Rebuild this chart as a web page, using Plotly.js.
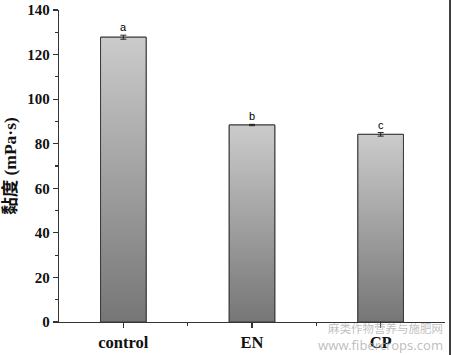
<!DOCTYPE html>
<html>
<head>
<meta charset="utf-8">
<script src="https://cdn.plot.ly/plotly-3.0.1.min.js"></script>
<style>html,body{margin:0;padding:0;background:#fff;}</style>
</head>
<body>
<div id="chart" style="width:452px;height:355px;"></div>
<script>
const categories = ['control', 'EN', 'CP'];
const viscosity = [127.8, 88.4, 84.2];
const errors = [0.9, 0.3, 0.8];
const letters = ['a', 'b', 'c'];
const yTicks = [0, 20, 40, 60, 80, 100, 120, 140];

const idx = categories.map((c, i) => i);
const halfW = 0.177;

const traces = [];
// base bar trace (data)
traces.push({
  type: 'bar', x: idx, y: viscosity, width: 2 * halfW,
  marker: {color: '#a0a0a0', line: {color: '#333', width: 1}},
  hoverinfo: 'none', showlegend: false
});
// gradient overlays built from the same data
idx.forEach((i) => {
  const v = viscosity[i];
  traces.push({
    type: 'scatter', mode: 'lines',
    x: [i - halfW, i + halfW, i + halfW, i - halfW, i - halfW],
    y: [0, 0, v, v, 0],
    fill: 'toself',
    fillgradient: {type: 'vertical', colorscale: [[0, '#767676'], [1, '#cbcbcb']]},
    line: {color: '#3a3a3a', width: 1},
    hoverinfo: 'none', showlegend: false
  });
});
// error bars
traces.push({
  type: 'scatter', mode: 'markers', x: idx, y: viscosity,
  marker: {size: 1, color: 'rgba(0,0,0,0)'},
  error_y: {type: 'data', array: errors, visible: true, color: '#222', thickness: 1, width: 3},
  hoverinfo: 'none', showlegend: false
});

const annotations = idx.map((i) => ({
  x: i, y: viscosity[i] + errors[i], xref: 'x', yref: 'y',
  text: letters[i], showarrow: false, yanchor: 'bottom', yshift: 0,
  font: {family: 'Liberation Sans, Arial, sans-serif', size: 11, color: '#000'}
}));
annotations.push({
  xref: 'paper', yref: 'paper', x: 1.0, y: -0.02, xanchor: 'right', yanchor: 'middle',
  text: '麻类作物营养与施肥网', showarrow: false,
  font: {family: 'Noto Sans CJK SC, Noto Sans, sans-serif', size: 11.5, color: 'rgba(170,170,170,0.75)'}
});
annotations.push({
  xref: 'paper', yref: 'paper', x: 1.0, y: -0.074, xanchor: 'right', yanchor: 'middle',
  text: 'www.fibercrops.com', showarrow: false,
  font: {family: 'Noto Sans, DejaVu Sans, sans-serif', size: 13, color: 'rgba(170,170,170,0.75)'}
});

const layout = {
  width: 452, height: 355,
  margin: {l: 59, r: 7, t: 10, b: 33},
  paper_bgcolor: '#fff', plot_bgcolor: '#fff',
  showlegend: false,
  xaxis: {
    range: [-0.5, 2.5], tickmode: 'array', tickvals: idx, ticktext: categories,
    showgrid: false, zeroline: false, showline: true, linecolor: '#333', linewidth: 1.3,
    ticks: 'outside', ticklen: 5, tickcolor: '#333', tickwidth: 1.2,
    minor: {tickmode: 'array', tickvals: [0.5, 1.5], ticks: 'outside', ticklen: 3, tickcolor: '#333', tickwidth: 1.2, showgrid: false},
    tickfont: {family: 'Liberation Serif, Times New Roman, serif', size: 16.5, color: '#111', weight: 'bold'}
  },
  yaxis: {
    range: [0, 140], tickmode: 'array', tickvals: yTicks,
    showgrid: false, zeroline: false, showline: true, linecolor: '#333', linewidth: 1.3,
    ticks: 'outside', ticklen: 5, tickcolor: '#333', tickwidth: 1.2,
    minor: {dtick: 10, ticks: 'outside', ticklen: 3, tickcolor: '#333', tickwidth: 1.2, showgrid: false},
    tickfont: {family: 'Liberation Serif, Times New Roman, serif', size: 15, color: '#111', weight: 'bold'},
    title: {text: '黏度 (mPa·s)', standoff: 7,
      font: {family: 'Liberation Serif, Noto Sans CJK SC, serif', size: 17.5, color: '#111', weight: 'bold'}}
  },
  shapes: [{
    type: 'line', xref: 'paper', yref: 'paper', x0: 1.013, x1: 1.013, y0: -0.11, y1: 1.04,
    line: {color: '#000', width: 1.5}
  }],
  annotations: annotations
};

Plotly.newPlot('chart', traces, layout, {displayModeBar: false, staticPlot: true});
</script>
</body>
</html>
